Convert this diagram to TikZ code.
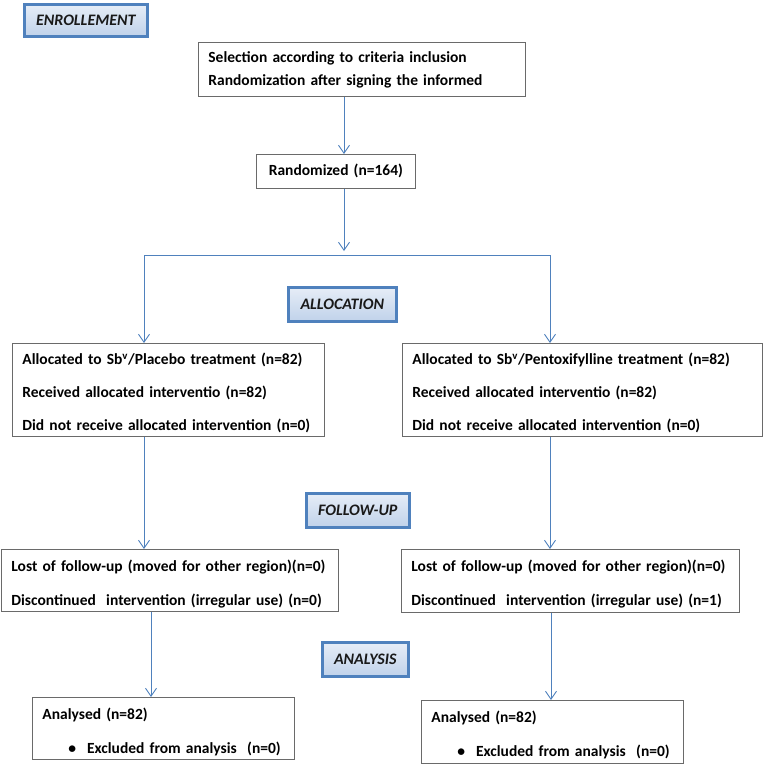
\documentclass[tikz,border=0pt]{standalone}
\usepackage{fontspec}
\setmainfont{Carlito}
\usetikzlibrary{positioning,calc,arrows.meta}
\definecolor{linkblue}{HTML}{4F81BD}
\definecolor{phaselight}{HTML}{E6EDF7}
\definecolor{phasedark}{HTML}{C0D2EA}
\definecolor{boxgray}{HTML}{6A6A6A}
\tikzset{
  arr/.style={draw=linkblue,line width=0.9pt,-{Straight Barb[length=8pt,width=11pt]}},
  flowbox/.style args={#1,#2}{
  draw=boxgray,
  line width=0.8pt,
  anchor=north west,
  align=left,
  inner xsep=10pt,
  inner ysep=0pt,
  text width=#1-20pt,
  minimum width=#1,
  minimum height=#2,
  font=\bfseries\fontsize{15.5}{33}\selectfont
  },
  dropped/.style={execute at begin node={\rule{0pt}{18.5pt}}},
  phase/.style args={#1,#2}{
  draw=linkblue,
  line width=2.6pt,
  top color=phaselight,
  bottom color=phasedark,
  text=black!90,
  anchor=north west,
  inner sep=0pt,
  minimum width=#1,
  minimum height=#2,
  font=\bfseries\itshape\fontsize{16}{18}\selectfont
  }
}
\begin{document}
\begin{tikzpicture}[x=1pt,y=-1pt]
  \useasboundingbox (0,0) rectangle (763,764);

  % phase labels
  \node [phase={123pt,32pt}] (enrol) at (23,3) {ENROLLEMENT};
  \node [phase={108pt,34pt}] (alloc) at (287,286) {ALLOCATION};
  \node [phase={103pt,34pt}] (follow) at (305,492) {FOLLOW-UP};
  \node [phase={86pt,34pt}] (analysis) at (321,641) {ANALYSIS};

  % boxes
  \node [flowbox={327pt,54pt},font=\bfseries\fontsize{15.5}{23}\selectfont] (sel) at (198,42)
    {Selection according to criteria inclusion\\Randomization after signing the informed};
  \node [flowbox={159pt,34pt},align=center] (rand) at (256,154) {Randomized (n=164)};

  \node [flowbox={312pt,93pt},dropped] (allocL) at (12,343)
    {Allocated to Sb\textsuperscript{v}/Placebo treatment (n=82)\\Received allocated interventio (n=82)\\Did not receive allocated intervention (n=0)};
  \node [flowbox={360pt,93pt},dropped] (allocR) at (402,343)
    {Allocated to Sb\textsuperscript{v}/Pentoxifylline treatment (n=82)\\Received allocated interventio (n=82)\\Did not receive allocated intervention (n=0)};

  \node [flowbox={337pt,62pt},dropped,font=\bfseries\fontsize{15.5}{34}\selectfont] (fupL) at (1,549)
    {Lost of follow-up (moved for other region)(n=0)\\Discontinued\ \ intervention (irregular use) (n=0)};
  \node [flowbox={338pt,63pt},dropped,font=\bfseries\fontsize{15.5}{34}\selectfont] (fupR) at (401,549)
    {Lost of follow-up (moved for other region)(n=0)\\Discontinued\ \ intervention (irregular use) (n=1)};

  \node [flowbox={262pt,62pt},dropped,font=\bfseries\fontsize{15.5}{34}\selectfont] (anaL) at (32,697)
    {Analysed (n=82)\\\hspace*{26pt}\textbullet\hspace{11pt}Excluded from analysis\ \ (n=0)};
  \node [flowbox={262pt,63pt},dropped,font=\bfseries\fontsize{15.5}{34}\selectfont] (anaR) at (421,700)
    {Analysed (n=82)\\\hspace*{26pt}\textbullet\hspace{11pt}Excluded from analysis\ \ (n=0)};

  % connectors
  \coordinate (split) at (344,255);
  \coordinate (colL) at (144,0);
  \coordinate (colR) at (550,0);
  \coordinate (anaLx) at (151,0);
  \coordinate (anaRx) at (551,0);

  \draw [arr] (sel.south -| split) -- (rand.north -| split);
  \draw [arr,shorten >=4pt] (rand.south -| split) -- (split);
  \draw [arr] (split) -| (colL |- allocL.north);
  \draw [arr] (split) -| (colR |- allocR.north);
  \draw [arr] (allocL.south -| colL) -- (fupL.north -| colL);
  \draw [arr] (allocR.south -| colR) -- (fupR.north -| colR);
  \draw [arr] (fupL.south -| anaLx) -- (anaL.north -| anaLx);
  \draw [arr] (fupR.south -| anaRx) -- (anaR.north -| anaRx);
\end{tikzpicture}
\end{document}
